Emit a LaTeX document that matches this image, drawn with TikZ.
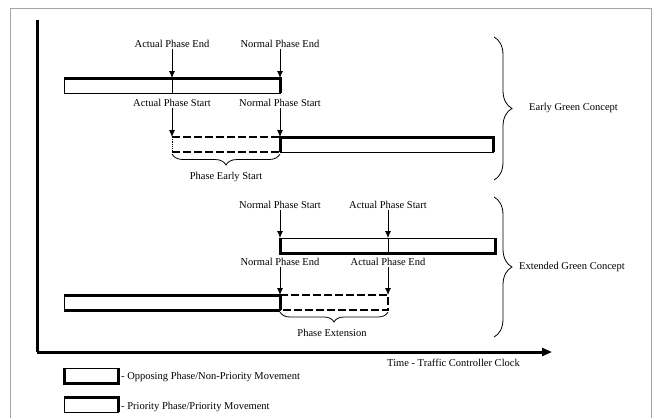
\documentclass[tikz,border=0pt]{standalone}
\usepackage{fontspec}
\setmainfont{Liberation Serif}
\usetikzlibrary{arrows.meta,decorations.pathreplacing}
\begin{document}
\begin{tikzpicture}[x=1pt,y=-1pt,
  lbl/.style={inner sep=1pt,font=\fontsize{10.5}{12}\selectfont},
  arr/.style={-{Latex[length=7pt,width=6pt]},line width=0.8pt},
  thinedge/.style={line width=0.8pt},
  thickedge/.style={line width=3pt},
  dashedge/.style={line width=2.6pt,dash pattern=on 8pt off 3pt},
  dashthin/.style={line width=1.8pt,dash pattern=on 8pt off 3pt},
  brc/.style={decorate,decoration={brace,amplitude=#1},line width=0.8pt},
]
\useasboundingbox (0,0) rectangle (660,418);
% outer frame
\draw[gray!70,line width=0.8pt] (10,418) -- (10,8) -- (651,8) -- (651,418);
% axes
\coordinate (ytop) at (37,20);
\coordinate (orig) at (37,352);
\coordinate (xend) at (552,352);
\draw[line width=3pt] (ytop) -- (orig);
\draw[line width=3pt,-{Triangle[length=10pt,width=8pt]}] (orig) -- (xend);
\node[lbl,anchor=west] (tlab) at (386,363) {Time - Traffic Controller Clock};

% ===== Early Green Concept =====
% bar A
\draw[thinedge] (64,78) rectangle (280,93);
\draw[thickedge] (64,78) -- (280,78) -- (280,93);
\draw[thinedge] (172,78) -- (172,93);
% dashed early start region
\draw[thinedge,densely dotted] (172,137) -- (172,152);
\draw[dashedge] (172,137) -- (280,137);
\draw[dashthin] (172,152) -- (280,152);
% bar B
\draw[thinedge] (280,137) rectangle (493,152);
\draw[thickedge] (280,152) -- (280,137) -- (493,137) -- (493,152);

\node[lbl] (ape1) at (172,44) {Actual Phase End};
\node[lbl] (npe1) at (280,44) {Normal Phase End};
\node[lbl] (aps1) at (172,103) {Actual Phase Start};
\node[lbl] (nps1) at (280,103) {Normal Phase Start};
\coordinate (a1) at (172,78);
\coordinate (b1) at (280,78);
\coordinate (c1) at (172,137);
\coordinate (d1) at (280,137);
\draw[arr] (ape1.south) -- (a1);
\draw[arr] (npe1.south) -- (b1);
\draw[arr] (aps1.south) -- (c1);
\draw[arr] (nps1.south) -- (d1);

\coordinate (bs1) at (280,154);
\coordinate (be1) at (172,154);
\draw[brc=11pt] (bs1) -- (be1);
\node[lbl] (pes) at (226,177) {Phase Early Start};

\coordinate (gb1) at (494,37);
\coordinate (gb2) at (494,180);
\draw[brc=18pt] (gb1) -- (gb2);
\node[lbl,anchor=west] (egc) at (528,108) {Early Green Concept};

% ===== Extended Green Concept =====
% bar C
\draw[thinedge] (280,238) rectangle (495,253);
\draw[thickedge] (280,238) -- (280,253) -- (495,253) -- (495,238);
\draw[thinedge] (388,238) -- (388,253);
% bar D
\draw[thinedge] (64,295) rectangle (280,310);
\draw[thickedge] (64,295) -- (280,295);
\draw[thickedge] (64,310) -- (280,310);
\draw[thickedge] (280,295) -- (280,310);
% dashed extension region
\draw[dashedge] (280,295) -- (388,295) -- (388,310) -- (280,310);

\node[lbl] (nps2) at (280,205) {Normal Phase Start};
\node[lbl] (aps2) at (388,205) {Actual Phase Start};
\node[lbl] (npe2) at (280,262) {Normal Phase End};
\node[lbl] (ape2) at (388,262) {Actual Phase End};
\coordinate (a2) at (280,238);
\coordinate (b2) at (388,238);
\coordinate (c2) at (280,295);
\coordinate (d2) at (388,295);
\draw[arr] (nps2.south) -- (a2);
\draw[arr] (aps2.south) -- (b2);
\draw[arr] (npe2.south) -- (c2);
\draw[arr] (ape2.south) -- (d2);

\coordinate (bs2) at (388,312);
\coordinate (be2) at (280,312);
\draw[brc=10pt] (bs2) -- (be2);
\node[lbl] (pext) at (332,333) {Phase Extension};

\coordinate (gb3) at (494,197);
\coordinate (gb4) at (494,337);
\draw[brc=18pt] (gb3) -- (gb4);
\node[lbl,anchor=west] (xgc) at (518,267) {Extended Green Concept};

% ===== Legend =====
\draw[thinedge] (64,368) rectangle (118,383);
\draw[thickedge] (64,368) -- (64,383) -- (118,383) -- (118,368);
\node[lbl,anchor=west] (leg1) at (120,377) {- Opposing Phase/Non-Priority Movement};
\draw[thinedge] (64,397) rectangle (118,412);
\draw[thickedge] (64,397) -- (118,397) -- (118,412);
\node[lbl,anchor=west] (leg2) at (120,407) {- Priority Phase/Priority Movement};
\end{tikzpicture}
\end{document}
